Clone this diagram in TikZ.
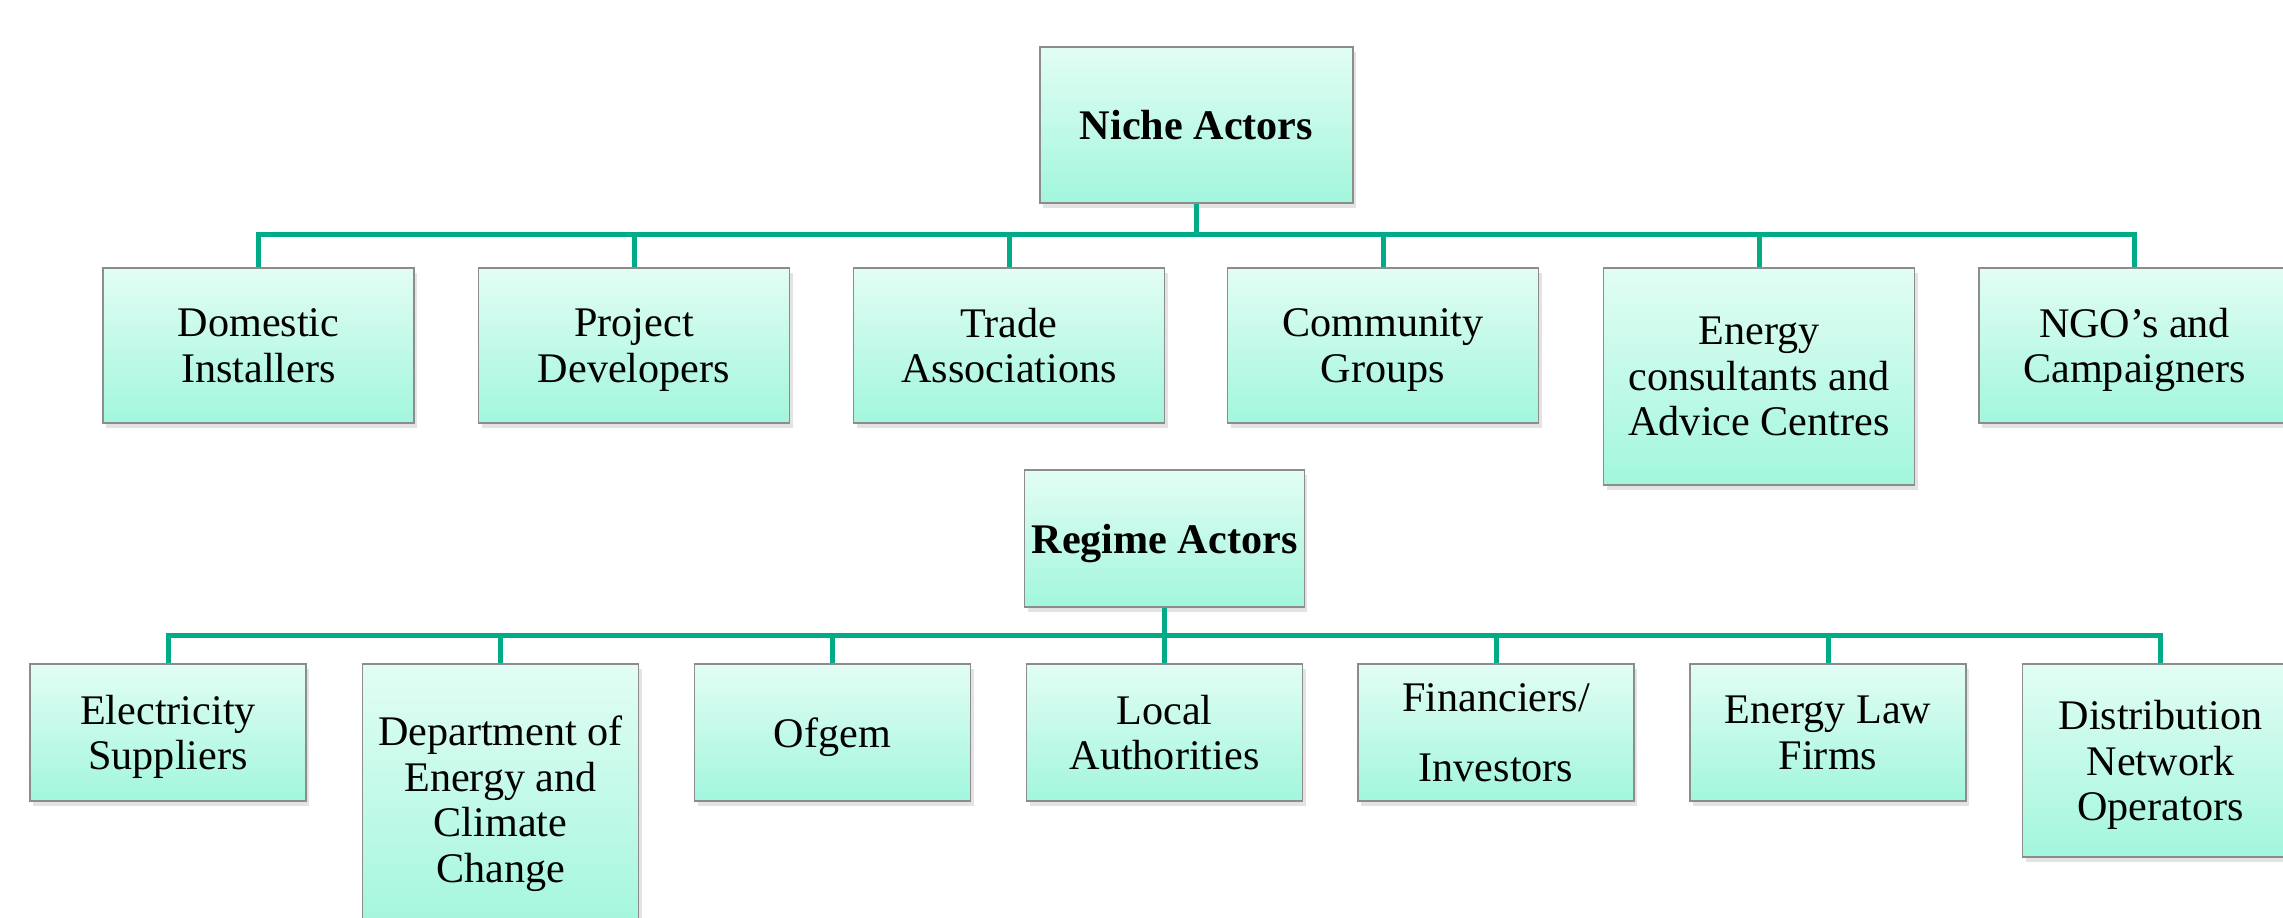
\documentclass[tikz,border=0pt]{standalone}
\usepackage{fontspec}
\setmainfont{Liberation Serif}
\usepackage{xcolor}
\definecolor{smteal}{RGB}{0,172,136}
\definecolor{smmint}{RGB}{226,253,244}
\definecolor{smmintdk}{RGB}{162,246,221}
\definecolor{smedge}{RGB}{140,140,140}
\usetikzlibrary{positioning,shadows}
\tikzset{
  abox/.style 2 args={draw=smedge, line width=0.5pt, top color=smmint, bottom color=smmintdk,
                      drop shadow={opacity=0.22, shadow xshift=0.03cm, shadow yshift=-0.05cm},
                      minimum width=#1cm, minimum height=#2cm, align=center, inner sep=2pt,
                      text depth=0pt, font=\fontsize{12}{13}\selectfont},
  ahead/.style 2 args={abox={#1}{#2}, font=\fontsize{12}{13}\selectfont\bfseries},
  bus/.style={draw=smteal, line width=0.05cm},
}

\begin{document}
\begin{tikzpicture}
\useasboundingbox (0,0) rectangle (22.83,9.18);
\clip (0,0) rectangle (22.83,9.18);

% Niche level
\node[ahead={3.13}{1.56}] (niche) at (11.965, 7.93) {Niche Actors};
\coordinate (nbus) at (11.965, 6.83);

\node[abox={3.11}{1.55}] (dom)   at (2.585, 5.725) {Domestic\\Installers};
\node[abox={3.11}{1.55}] (proj)  at (6.34, 5.725)  {Project\\Developers};
\node[abox={3.11}{1.55}] (trade) at (10.09, 5.725) {Trade\\Associations};
\node[abox={3.11}{1.55}] (comm)  at (13.83, 5.725) {Community\\Groups};
\node[abox={3.11}{2.17}] (cons)  at (17.59, 5.415) {Energy\\consultants and\\Advice Centres};
\node[abox={3.11}{1.55}] (ngo)   at (21.345, 5.725) {NGO’s and\\Campaigners};

\foreach \c in {dom,proj,trade,comm,cons,ngo}
  \draw[bus] (niche.south) -- (niche.south |- nbus) -| (\c.north);

% Regime level
\node[ahead={2.75}{1.37}] (regime) at (11.645, 3.795) {Regime Actors};
\coordinate (rbus) at (11.645, 2.82);

\node[abox={2.76}{1.37}] (elec)  at (1.68, 1.855)  {Electricity\\Suppliers};
\node[abox={2.76}{2.70}] (decc)  at (5.005, 1.19)  {Department of\\Energy and\\Climate\\Change};
\node[abox={2.76}{1.37}] (ofgem) at (8.325, 1.855) {Ofgem};
\node[abox={2.76}{1.37}] (local) at (11.645, 1.855) {Local\\Authorities};
\node[abox={2.76}{1.37}] (fin)   at (14.96, 1.855) {Financiers/\\[7pt]Investors};
\node[abox={2.76}{1.37}] (law)   at (18.28, 1.855) {Energy Law\\Firms};
\node[abox={2.76}{1.93}] (dno)   at (21.605, 1.575) {Distribution\\Network\\Operators};

\foreach \c in {elec,decc,ofgem,local,fin,law,dno}
  \draw[bus] (regime.south) -- (regime.south |- rbus) -| (\c.north);
\end{tikzpicture}
\end{document}
